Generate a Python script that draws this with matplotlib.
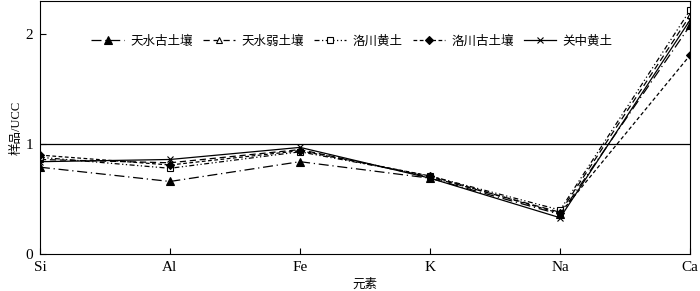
import matplotlib
matplotlib.use("Agg")
import matplotlib.pyplot as plt

plt.rcParams["font.family"] = ["Liberation Serif", "Noto Sans CJK SC"]

elements = ["Si", "Al", "Fe", "K", "Na", "Ca"]

tianshui_paleosol = [0.79, 0.66, 0.84, 0.69, 0.36, 2.08]
tianshui_weak = [0.86, 0.83, 0.95, 0.70, 0.38, 2.17]
luochuan_loess = [0.88, 0.78, 0.93, 0.71, 0.40, 2.22]
luochuan_paleosol = [0.90, 0.81, 0.94, 0.71, 0.37, 1.81]
guanzhong_loess = [0.84, 0.86, 0.97, 0.69, 0.33, 2.13]

series = [
    ("天水古土壤", tianshui_paleosol, dict(marker="^", mfc="black", ms=5.5, ls=(0, (8, 3, 1, 3)))),
    ("天水弱土壤", tianshui_weak, dict(marker="^", mfc="white", ms=4.5, ls=(0, (5, 3)))),
    ("洛川黄土", luochuan_loess, dict(marker="s", mfc="white", ms=4.5, ls=(0, (4, 2, 1, 2, 1, 2)))),
    ("洛川古土壤", luochuan_paleosol, dict(marker="D", mfc="black", ms=4, ls=(0, (3, 2)))),
    ("关中黄土", guanzhong_loess, dict(marker="x", mfc="black", ms=4.5, ls="-")),
]

fig = plt.figure(figsize=(7, 2.91), dpi=100)
ax = fig.add_axes([0.057, 0.127, 0.929, 0.869])

x = list(range(len(elements)))
for label, vals, st in series:
    ax.plot(x, vals, color="black", lw=0.9, mec="black", mew=0.8,
            label=label, **st)

ax.axhline(1, color="black", lw=0.9)

ax.set_xlim(0, 5)
ax.set_ylim(0, 2.3)
ax.set_xticks(x)
ax.set_xticklabels(elements)
ax.set_yticks([0, 1, 2])
ax.tick_params(direction="in", length=4, labelsize=11, pad=5)
ax.set_xlabel("元素", fontsize=9, labelpad=3)
ax.set_ylabel("样品/UCC", fontsize=9, labelpad=2)

ax.legend(loc="upper center", bbox_to_anchor=(0.48, 0.91), ncol=5, frameon=False,
          fontsize=9, handlelength=2.6, columnspacing=0.8, handletextpad=0.5)

fig.savefig("out.png", dpi=100)
